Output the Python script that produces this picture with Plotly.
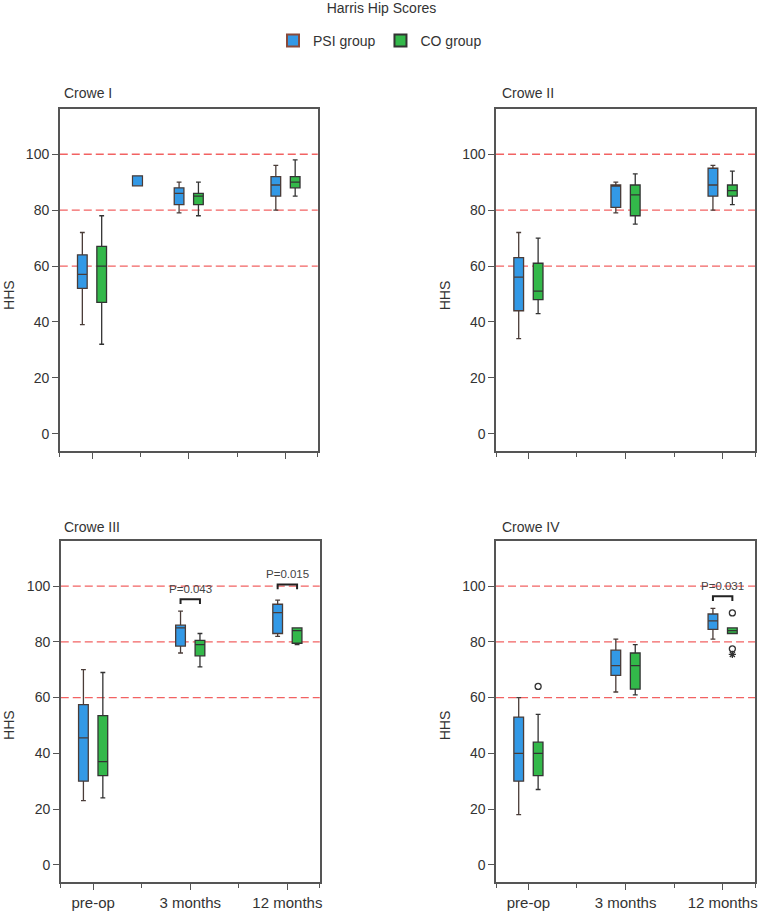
import plotly.graph_objects as go

# ---------------- data ----------------
categories = ["pre-op", "3 months", "12 months"]
panels = ["Crowe I", "Crowe II", "Crowe III", "Crowe IV"]

# PSI group box statistics (one row per panel, one value per category)
psi_lower = [[39, 79, 80], [34, 79, 80], [23, 76, 82], [18, 62, 81]]
psi_q1 = [[52, 82, 85], [44, 81, 85], [30, 78.5, 83], [30, 68, 84.5]]
psi_median = [[57, 86, 89], [56, 89, 89], [45.5, 85, 90.5], [40, 71.5, 87.5]]
psi_q3 = [[64, 88, 92], [63, 89, 95], [57.5, 86, 93.5], [53, 77, 90]]
psi_upper = [[72, 90, 96], [72, 90, 96], [70, 91, 95], [60, 81, 92]]

# CO group box statistics
co_lower = [[32, 78, 85], [43, 75, 82], [24, 71, 79], [27, 61, 83]]
co_q1 = [[47, 82, 88], [48, 78, 85], [32, 75, 79.5], [32, 63, 83]]
co_median = [[60, 85, 90], [51, 85.5, 87], [37, 79, 84], [40, 71.5, 84]]
co_q3 = [[67, 86, 92], [61, 89, 89], [53.5, 80.5, 85], [44, 76, 85]]
co_upper = [[78, 90, 98], [70, 93, 94], [69, 83, 85], [54, 79, 85]]

# CO-group outliers (panel index, category index, value, symbol)
outlier_panel = [3, 3, 3, 3]
outlier_cat = [0, 2, 2, 2]
outlier_val = [64, 90.4, 77.5, 75.5]
outlier_symbol = ["circle-open", "circle-open", "circle-open", "asterisk-open"]

# stray PSI marker in Crowe I
stray_panel = [0]
stray_pos = [0.47]
stray_val = [90.5]

# significance brackets
sig_panel = [2, 2, 3]
sig_cat = [1, 2, 2]
sig_bracket = [95.3, 100.6, 96.4]
sig_label = ["P=0.043", "P=0.015", "P=0.031"]

ref_lines = [60, 80, 100]
y_ticks = [0, 20, 40, 60, 80, 100]

# ---------------- style ----------------
W, H = 763, 911
FONT = "Liberation Sans, Arial, Helvetica, sans-serif"
TXT = "#333333"
BLUE = "#3399e6"
GREEN = "#33b84a"
BLUE_LINE = "#4a3c38"
GREEN_LINE = "#333333"
FRAME = "#555555"
OFF = 0.1
BOXW = 0.1

# panel frames in pixels: (left, right, top, bottom)
frames = [(60, 319, 109, 451), (498, 758, 109, 451),
          (61, 321, 541, 882), (498, 758, 541, 882)]
title_pos = [(62, 93), (502, 93), (62, 527), (502, 527)]
hhs_pos = [(9, 295), (447, 295), (9, 725), (447, 725)]

fig = go.Figure()

for p in range(4):
    xa = "x" if p == 0 else f"x{p+1}"
    ya = "y" if p == 0 else f"y{p+1}"
    fig.add_trace(go.Box(
        x=[i - OFF for i in range(3)],
        q1=psi_q1[p], median=psi_median[p], q3=psi_q3[p],
        lowerfence=psi_lower[p], upperfence=psi_upper[p],
        width=BOXW, whiskerwidth=0.5, boxpoints=False,
        fillcolor=BLUE, line=dict(color=BLUE_LINE, width=1.3),
        xaxis=xa, yaxis=ya, showlegend=False, name="PSI group"))
    fig.add_trace(go.Box(
        x=[i + OFF for i in range(3)],
        q1=co_q1[p], median=co_median[p], q3=co_q3[p],
        lowerfence=co_lower[p], upperfence=co_upper[p],
        width=BOXW, whiskerwidth=0.5, boxpoints=False,
        fillcolor=GREEN, line=dict(color=GREEN_LINE, width=1.3),
        xaxis=xa, yaxis=ya, showlegend=False, name="CO group"))

    ox = [outlier_cat[i] + OFF for i in range(len(outlier_val)) if outlier_panel[i] == p]
    oy = [outlier_val[i] for i in range(len(outlier_val)) if outlier_panel[i] == p]
    osym = [outlier_symbol[i] for i in range(len(outlier_val)) if outlier_panel[i] == p]
    if ox:
        fig.add_trace(go.Scatter(
            x=ox, y=oy, mode="markers",
            marker=dict(symbol=osym, size=6, color="#333333",
                        line=dict(color="#333333", width=1.3)),
            xaxis=xa, yaxis=ya, showlegend=False, hoverinfo="skip"))

    sx = [stray_pos[i] for i in range(len(stray_pos)) if stray_panel[i] == p]
    sy = [stray_val[i] for i in range(len(stray_pos)) if stray_panel[i] == p]
    if sx:
        fig.add_trace(go.Scatter(
            x=sx, y=sy, mode="markers",
            marker=dict(symbol="square", size=10, color=BLUE,
                        line=dict(color=BLUE_LINE, width=1.2)),
            xaxis=xa, yaxis=ya, showlegend=False, hoverinfo="skip"))

# legend entries
fig.add_trace(go.Scatter(x=[None], y=[None], mode="markers", name="PSI group",
                         marker=dict(symbol="square", size=12, color=BLUE,
                                     line=dict(color="#8a4a3a", width=1))))
fig.add_trace(go.Scatter(x=[None], y=[None], mode="markers", name="CO group",
                         marker=dict(symbol="square", size=12, color=GREEN,
                                     line=dict(color="#333333", width=1))))

shapes = []
annotations = []
layout_axes = {}
for p in range(4):
    l, r, t, b = frames[p]
    sfx = "" if p == 0 else str(p + 1)
    bottom_row = p >= 2
    layout_axes["xaxis" + sfx] = dict(
        domain=[l / W, r / W], anchor="y" + sfx,
        range=[-1 / 3, 7 / 3], tickvals=[0, 1, 2], ticktext=categories,
        showticklabels=bottom_row, ticks="outside", ticklen=6, tickwidth=1.2,
        tickcolor=FRAME, showline=True, linecolor=FRAME, linewidth=1.5,
        mirror=True, showgrid=False, zeroline=False,
        tickfont=dict(size=15, color=TXT, family=FONT),
        minor=dict(tickmode="array", tickvals=[-1 / 3, 0.5, 1.5, 7 / 3],
                   ticks="outside", ticklen=4, tickcolor=FRAME, showgrid=False))
    layout_axes["yaxis" + sfx] = dict(
        domain=[1 - b / H, 1 - t / H], anchor="x" + sfx,
        range=[-6.2, 116.2], tickvals=y_ticks, ticks="outside", ticklen=6,
        tickwidth=1.2, tickcolor=FRAME, showline=True, linecolor=FRAME,
        linewidth=1.5, mirror=True, showgrid=False, zeroline=False,
        tickfont=dict(size=14, color=TXT, family=FONT))
    xr = "x" + sfx
    yr = "y" + sfx
    for v in ref_lines:
        shapes.append(dict(type="line", xref=xr + " domain", yref=yr,
                           x0=0, x1=1, y0=v, y1=v, layer="below",
                           line=dict(color="rgba(240,70,70,0.85)", width=1.3,
                                     dash="8px,4px")))
    tx, ty = title_pos[p]
    annotations.append(dict(text=panels[p], xref="paper", yref="paper",
                            x=tx / W, y=1 - ty / H, xanchor="left", yanchor="middle",
                            showarrow=False, font=dict(size=14, color=TXT, family=FONT)))
    hx, hy = hhs_pos[p]
    annotations.append(dict(text="HHS", xref="paper", yref="paper",
                            x=hx / W, y=1 - hy / H, xanchor="center", yanchor="middle",
                            textangle=-90, showarrow=False,
                            font=dict(size=14, color=TXT, family=FONT)))

for i in range(len(sig_label)):
    p = sig_panel[i]
    sfx = "" if p == 0 else str(p + 1)
    xr, yr = "x" + sfx, "y" + sfx
    c = sig_cat[i]
    yb = sig_bracket[i]
    shapes.append(dict(type="path", xref=xr, yref=yr,
                       path=f"M {c-OFF} {yb-1.7} L {c-OFF} {yb} L {c+OFF} {yb} L {c+OFF} {yb-1.7}",
                       line=dict(color="#222222", width=2)))
    annotations.append(dict(text=sig_label[i], xref=xr, yref=yr, x=c, y=yb + 3.6,
                            xanchor="center", yanchor="middle", showarrow=False,
                            font=dict(size=11.5, color="#444444", family=FONT)))

fig.update_layout(
    width=W, height=H, autosize=False,
    margin=dict(l=0, r=0, t=0, b=0),
    paper_bgcolor="white", plot_bgcolor="white",
    font=dict(family=FONT, color=TXT),
    title=dict(text="Harris Hip Scores", x=0.5, xanchor="center",
               y=1 - 8 / H, yanchor="middle", font=dict(size=14, color=TXT, family=FONT)),
    legend=dict(orientation="h", x=0.5, xanchor="center", y=1 - 41 / H,
                yanchor="middle", font=dict(size=14, color=TXT, family=FONT),
                itemsizing="constant", bgcolor="rgba(0,0,0,0)"),
    boxmode="overlay",
    shapes=shapes, annotations=annotations,
    **layout_axes)

fig.write_html("out.html", config={"displayModeBar": False},
               post_script="document.body.style.margin='0';document.body.style.padding='0';")
